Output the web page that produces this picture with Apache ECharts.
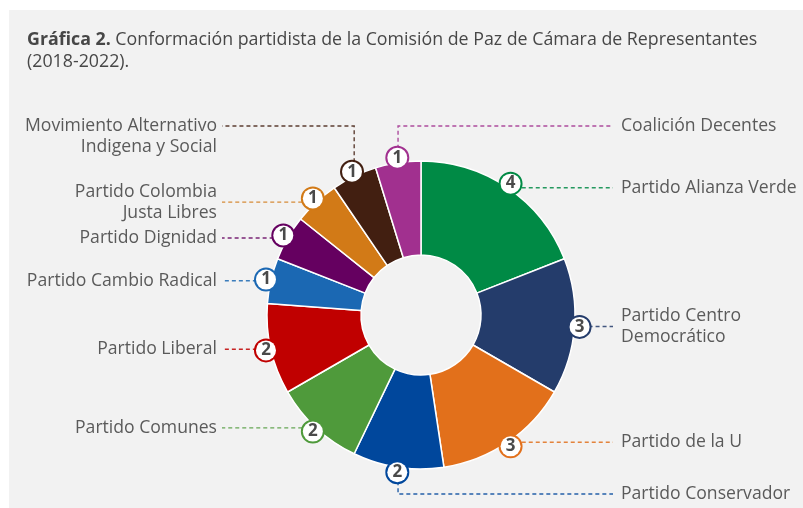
<!DOCTYPE html>
<html>
<head>
<meta charset="utf-8">
<script src="https://cdn.jsdelivr.net/npm/echarts@6/dist/echarts.min.js"></script>
<style>
  html, body { margin: 0; padding: 0; background: #fff; }
  .panel { position: absolute; left: 9px; top: 10px; right: 0; bottom: 0; background: #f2f2f2; }
  #chart { position: absolute; left: 0; top: 0; width: 803px; height: 508px; }
</style>
</head>
<body>
<div class="panel"></div>
<div id="chart"></div>
<script>
  // partidos en orden horario desde las 12
  const partidos = [
    'Partido Alianza Verde',
    'Partido Centro\nDemocrático',
    'Partido de la U',
    'Partido Conservador',
    'Partido Comunes',
    'Partido Liberal',
    'Partido Cambio Radical',
    'Partido Dignidad',
    'Partido Colombia\nJusta Libres',
    'Movimiento Alternativo\nIndigena y Social',
    'Coalición Decentes'
  ]
  const escanos = [4, 3, 3, 2, 2, 2, 1, 1, 1, 1, 1]
  const colores = ['#008a45', '#243c6b', '#e2701b', '#00479c', '#4f9a3b', '#c00000',
    '#1b68b3', '#650060', '#d27a17', '#421f11', '#a1308f']

  // guia de etiquetas: lado y, si hay codo, altura de la linea
  const guia = [
    { side: 'right' }, { side: 'right' }, { side: 'right' }, { side: 'right', y: 494 },
    { side: 'left' }, { side: 'left' }, { side: 'left' }, { side: 'left' }, { side: 'left' },
    { side: 'left', y: 126, top: true }, { side: 'right', y: 126 }
  ]

  const center = [421, 315]
  const font = '"Open Sans", sans-serif'

  const sectores = partidos.map((p, i) => ({
    name: p,
    value: escanos[i],
    itemStyle: { color: colores[i] },
    labelLine: { lineStyle: { color: colores[i] } }
  }))
  const circulos = partidos.map((p, i) => ({
    name: p,
    value: escanos[i],
    label: { borderColor: colores[i] }
  }))

  const chart = echarts.init(document.getElementById('chart'))
  chart.setOption({
    animation: false,
    title: {
      left: 27,
      top: 29,
      padding: 0,
      text: '{b|Gráfica 2.} Conformación partidista de la Comisión de Paz de Cámara de Representantes\n(2018-2022).',
      textStyle: {
        fontFamily: font,
        fontSize: 17.8,
        fontWeight: 'normal',
        color: '#474747',
        lineHeight: 22,
        rich: {
          b: { fontFamily: font, fontSize: 17.8, fontWeight: 'bold', color: '#474747', lineHeight: 22 }
        }
      }
    },
    series: [
      {
        type: 'pie',
        center: center,
        radius: [60, 154],
        startAngle: 90,
        clockwise: true,
        avoidLabelOverlap: false,
        itemStyle: { borderColor: '#ffffff', borderWidth: 1.5 },
        label: {
          position: 'outside',
          formatter: '{b}',
          fontFamily: font,
          fontSize: 17.6,
          lineHeight: 21,
          color: '#5a5a5a'
        },
        labelLine: {
          show: true,
          length: 0,
          length2: 0,
          lineStyle: { type: [4, 3], width: 1.4, opacity: 0.85 }
        },
        labelLayout: function (p) {
          const g = guia[p.dataIndex]
          const a = p.labelLinePoints[0]
          const right = g.side === 'right'
          const endX = right ? 613 : 222
          const lineY = g.y != null ? g.y : a[1]
          const pts = g.y != null
            ? [a, [a[0], lineY], [endX, lineY]]
            : [a, [(a[0] + endX) / 2, lineY], [endX, lineY]]
          return {
            x: right ? 621 : 217,
            y: lineY + (g.top ? 10.5 : 0),
            align: right ? 'left' : 'right',
            verticalAlign: 'middle',
            labelLinePoints: pts
          }
        },
        emphasis: { disabled: true },
        data: sectores
      },
      {
        type: 'pie',
        center: center,
        radius: [146, 166],
        startAngle: 90,
        clockwise: true,
        silent: true,
        itemStyle: { color: 'rgba(0,0,0,0)' },
        label: {
          position: 'inside',
          formatter: '{c}',
          fontFamily: font,
          fontSize: 17,
          fontWeight: 'bold',
          color: '#4a4a4a',
          backgroundColor: '#ffffff',
          borderWidth: 2,
          borderRadius: 12,
          width: 20,
          height: 20,
          lineHeight: 20,
          align: 'center',
          verticalAlign: 'middle'
        },
        labelLine: { show: false },
        emphasis: { disabled: true },
        data: circulos
      }
    ]
  })
  window.addEventListener('resize', () => {
    chart.resize()
  })
</script>
</body>
</html>
